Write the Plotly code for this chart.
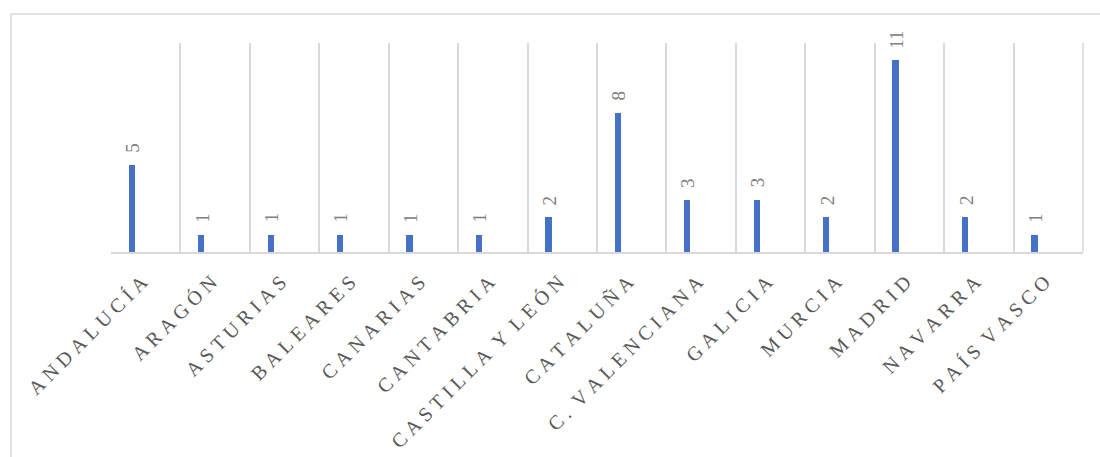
import plotly.graph_objects as go

# Regions and their counts
regions = ["ANDALUCÍA", "ARAGÓN", "ASTURIAS", "BALEARES", "CANARIAS", "CANTABRIA",
           "CASTILLA Y LEÓN", "CATALUÑA", "C. VALENCIANA", "GALICIA", "MURCIA",
           "MADRID", "NAVARRA", "PAÍS VASCO"]
counts = [5, 1, 1, 1, 1, 1, 2, 8, 3, 3, 2, 11, 2, 1]

LETTER_GAP = "\u2005"
WORD_GAP = "\u2002"


def spaced(label):
    # widen the letter spacing of the axis labels
    return WORD_GAP.join(LETTER_GAP.join(word) for word in label.split(" "))


tick_text = [spaced(r) for r in regions]

BAR_COLOR = "#4472C4"
GRID_COLOR = "#D9D9D9"
SERIF = "Liberation Serif, Times New Roman, serif"

W, H = 1100, 457
M_L, M_R, M_T, M_B = 111, 17, 43, 205

fig = go.Figure()
fig.add_trace(go.Bar(
    x=regions,
    y=counts,
    width=0.09,
    offset=-0.245,
    marker=dict(color=BAR_COLOR, line=dict(width=0)),
    hoverinfo="x+y",
    showlegend=False,
))

# value labels above each bar, rotated
for r, v in zip(regions, counts):
    fig.add_annotation(
        x=r, y=v, xref="x", yref="y",
        text=str(v), showarrow=False,
        textangle=-90,
        xanchor="center", yanchor="bottom",
        xshift=-13, yshift=10,
        font=dict(family=SERIF, size=19, color="#808080"),
    )

# outer chart frame
pw = W - M_L - M_R
ph = H - M_T - M_B
fig.add_shape(
    type="rect", xref="paper", yref="paper",
    x0=(11 - M_L) / pw, x1=(W + 10 - M_L) / pw,
    y0=-(H + 10 - M_T - ph) / ph, y1=1 + (M_T - 14) / ph,
    line=dict(color=GRID_COLOR, width=1.5),
    fillcolor="rgba(0,0,0,0)",
    layer="below",
)

fig.update_layout(
    width=W, height=H,
    margin=dict(l=M_L, r=M_R, t=M_T, b=M_B, autoexpand=False),
    paper_bgcolor="white",
    plot_bgcolor="white",
    bargap=0,
    xaxis=dict(
        type="category",
        tickmode="array",
        tickvals=regions,
        ticktext=tick_text,
        tickson="boundaries",
        showgrid=True,
        gridcolor=GRID_COLOR,
        gridwidth=1.5,
        showline=True,
        linecolor=GRID_COLOR,
        linewidth=1.5,
        mirror=False,
        ticks="",
        tickangle=-45,
        ticklabelstandoff=9,
        ticklabelshift=-4,
        tickfont=dict(family=SERIF, size=20, color="#595959"),
        automargin=False,
        fixedrange=True,
    ),
    yaxis=dict(
        range=[0, 12],
        visible=False,
        showgrid=False,
        zeroline=False,
        fixedrange=True,
    ),
)

# closing gridline at the right edge of the plot area
fig.add_shape(
    type="line", xref="paper", yref="paper",
    x0=1, x1=1, y0=0, y1=1,
    line=dict(color=GRID_COLOR, width=1.5),
    layer="below",
)

fig.write_html("out.html")
